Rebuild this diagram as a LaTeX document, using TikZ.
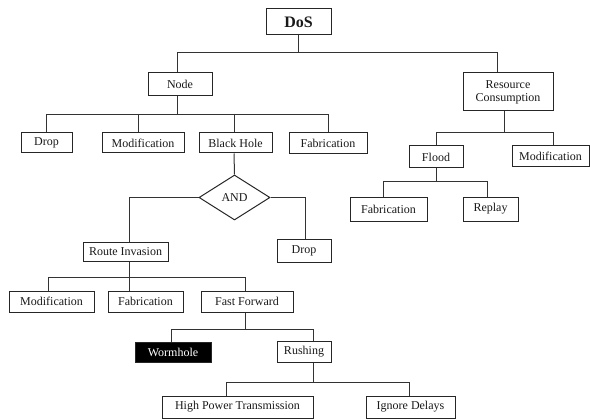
\documentclass[tikz,border=0pt]{standalone}
\usepackage{fontspec}
\setmainfont{Liberation Serif}
\usetikzlibrary{shapes.geometric}
\begin{document}
\begin{tikzpicture}[x=1pt,y=-1pt,
  box/.style={draw=black!85, line width=1pt, inner sep=0pt, align=center,
    font=\fontsize{12}{13}\selectfont, text=black!90},
  conn/.style={draw=black!80, line width=1pt}]
\useasboundingbox (0,0) rectangle (590,420);
% nodes
\node[box, minimum width=65pt, minimum height=26pt, font=\fontsize{16}{18}\selectfont\bfseries] (dos) at (298.5,22) {DoS};
\node[box, minimum width=64pt, minimum height=23pt] (node) at (180,84.5) {Node};
\node[box, minimum width=90pt, minimum height=38pt] (rc) at (508,92) {Resource\\Consumption};
\node[box, minimum width=51pt, minimum height=20pt] (drop1) at (46.5,143) {Drop};
\node[box, minimum width=82pt, minimum height=20pt] (mod1) at (143,143) {Modification};
\node[box, minimum width=73pt, minimum height=20pt] (bh) at (235.5,143) {Black Hole};
\node[box, minimum width=78pt, minimum height=21pt] (fab1) at (328,143.5) {Fabrication};
\node[box, minimum width=54pt, minimum height=22pt] (flood) at (436,157) {Flood};
\node[box, minimum width=77pt, minimum height=21pt] (mod2) at (550.5,156.5) {Modification};
\node[box, minimum width=77pt, minimum height=24pt] (fab2) at (388.5,209) {Fabrication};
\node[box, minimum width=55pt, minimum height=24pt] (replay) at (490.5,209) {Replay};
\node[box, diamond, minimum width=71pt, minimum height=45pt] (and) at (234.5,197.5) {AND};
\node[box, minimum width=85pt, minimum height=19pt] (ri) at (125.5,252) {Route Invasion};
\node[box, minimum width=54pt, minimum height=23pt] (drop2) at (304,250.5) {Drop};
\node[box, minimum width=85pt, minimum height=21pt] (mod3) at (51.5,301.5) {Modification};
\node[box, minimum width=75pt, minimum height=21pt] (fab3) at (145.5,301.5) {Fabrication};
\node[box, minimum width=92pt, minimum height=21pt] (ff) at (247,301.5) {Fast Forward};
\node[box, fill=black, text=white, minimum width=76pt, minimum height=20pt] (worm) at (173,352) {Wormhole};
\node[box, minimum width=54pt, minimum height=21pt] (rush) at (304,351.5) {Rushing};
\node[box, minimum width=151pt, minimum height=22pt] (hpt) at (237.5,407) {High Power Transmission};
\node[box, minimum width=89pt, minimum height=22pt] (igd) at (410.5,407) {Ignore Delays};
% bus points
\coordinate (b0) at (298.5,53);
\coordinate (b1) at (180,115);
\coordinate (b2) at (504,133);
\coordinate (b3) at (437,181);
\coordinate (b4) at (129,277);
\coordinate (b5) at (245,329);
\coordinate (b6) at (313,382);
% connectors
\draw[conn] (dos.south) -- (b0) -| ([xshift=-3pt]node.north);
\draw[conn] (b0) -| ([xshift=-11pt]rc.north);
\draw[conn] ([xshift=-3pt]node.south) |- (b1);
\draw[conn] (b1) -| (drop1.north);
\draw[conn] (b1) -| ([xshift=-5pt]mod1.north);
\draw[conn] (b1) -| ([xshift=-1.5pt]bh.north);
\draw[conn] (b1) -| (fab1.north);
\draw[conn] ([xshift=-4pt]rc.south) |- (b2);
\draw[conn] (b2) -| (flood.north);
\draw[conn] (b2) -| ([xshift=2.5pt]mod2.north);
\draw[conn] (flood.south) |- (b3);
\draw[conn] (b3) -| ([xshift=-5.5pt]fab2.north);
\draw[conn] (b3) -| ([xshift=-3.5pt]replay.north);
\draw[conn] ([xshift=-1.5pt]bh.south) -- (and.north);
\draw[conn] (and.west) -| ([xshift=3.5pt]ri.north);
\draw[conn] (and.east) -| ([xshift=1pt]drop2.north);
\draw[conn] ([xshift=3.5pt]ri.south) -- (b4);
\draw[conn] (b4) -| ([xshift=-3.5pt]mod3.north);
\draw[conn] (b4) -- (fab3.north -| b4);
\draw[conn] (b4) -| ([xshift=-2pt]ff.north);
\draw[conn] ([xshift=-2pt]ff.south) -- (b5);
\draw[conn] (b5) -| ([xshift=-2pt]worm.north);
\draw[conn] (b5) -| ([xshift=9pt]rush.north);
\draw[conn] ([xshift=9pt]rush.south) -- (b6);
\draw[conn] (b6) -| ([xshift=-11.5pt]hpt.north);
\draw[conn] (b6) -| ([xshift=-1.5pt]igd.north);
\end{tikzpicture}
\end{document}
